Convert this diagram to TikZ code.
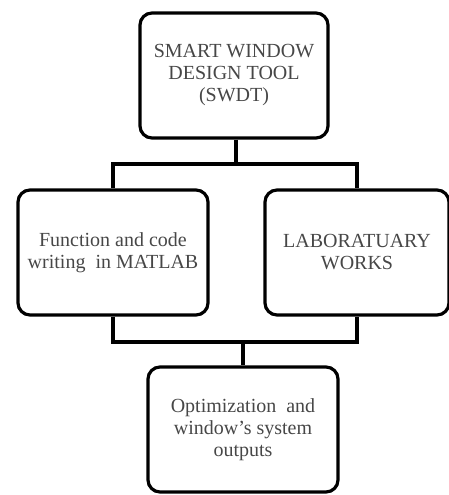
\documentclass[tikz,border=0pt]{standalone}
\usepackage{fontspec}
\setmainfont{Liberation Serif}
\begin{document}
\begin{tikzpicture}[x=1pt,y=-1pt,
  block/.style={draw=black, line width=3.2pt, rounded corners=12pt,
    minimum width=#1, minimum height=125pt, inner sep=0pt,
    align=center, text=black!72,
    font=\fontsize{20}{22}\selectfont},
  block/.default=190pt,
  conn/.style={draw=black, line width=3.2pt}]
\useasboundingbox (0,0) rectangle (449,495);

% the four boxes
\node[block=188pt] (swdt) at (234,75.5) {SMART WINDOW\\DESIGN TOOL\\(SWDT)};
\node[block=190pt] (matlab) at (113,252.5) {Function and code\\writing\ \ in MATLAB};
\node[block=184pt] (lab) at (357,252.5) {LABORATUARY\\WORKS};
\node[block=190pt] (outputs) at (243,429.5) {Optimization\ \ and\\window’s system\\outputs};

% levels of the two junction bars
\coordinate (barA) at (236,164);
\coordinate (barB) at (243,342);

% tool splits into the two work streams
\draw[conn] (swdt.south -| barA) -- (barA);
\draw[conn] (matlab.north) |- (lab.north |- barA) -- (lab.north);

% work streams merge into the outputs
\draw[conn] (matlab.south) |- (lab.south |- barB) -- (lab.south);
\draw[conn] (barB) -- (outputs.north);
\end{tikzpicture}
\end{document}
